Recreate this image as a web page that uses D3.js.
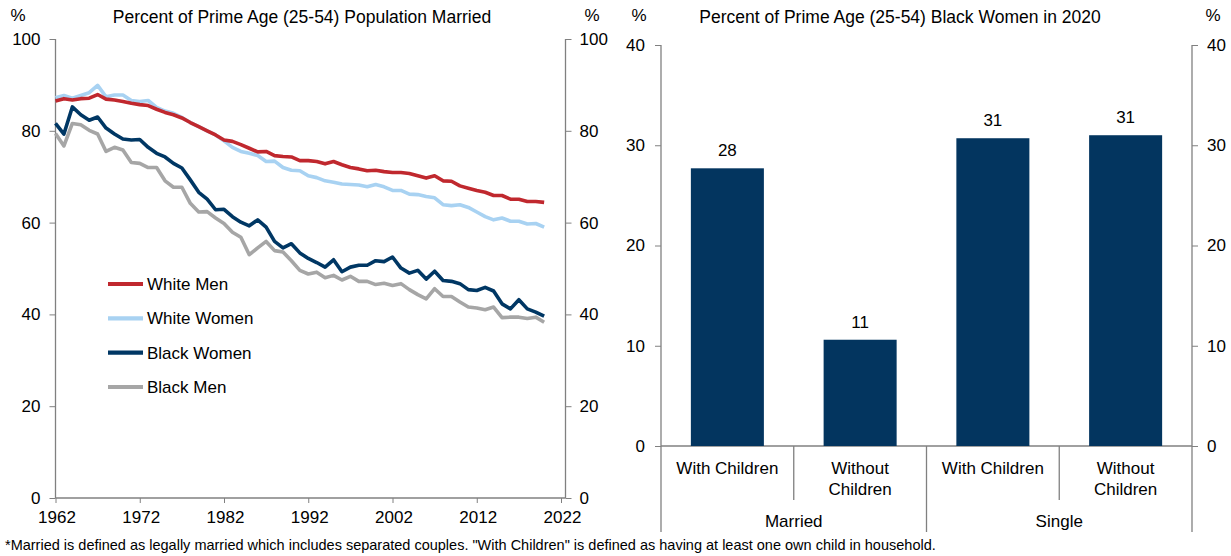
<!DOCTYPE html>
<html>
<head>
<meta charset="utf-8">
<script src="https://cdn.jsdelivr.net/npm/d3@7"></script>
<style>
  html, body { margin: 0; padding: 0; background: #fff; }
  svg text { font-family: "Liberation Sans", Arial, sans-serif; fill: #000; }
</style>
</head>
<body>
<svg id="chart" width="1231" height="556"></svg>
<script>
// ---------- DATA ----------
const years = d3.range(1962, 2021);
const whiteMen = [
  86.5,87.0,86.7,87.0,87.1,87.9,86.9,86.7,86.4,86.0,
  85.7,85.5,84.7,84.0,83.5,82.8,81.8,80.9,80.0,79.1,
  78.0,77.7,77.0,76.2,75.4,75.5,74.6,74.4,74.3,73.5,
  73.5,73.3,72.8,73.3,72.6,72.0,71.7,71.3,71.4,71.1,
  70.9,70.9,70.7,70.2,69.7,70.2,69.1,69.0,68.0,67.5,
  67.0,66.6,65.9,65.9,65.1,65.1,64.6,64.6,64.4];
const whiteWomen = [
  87.2,87.7,87.1,87.7,88.3,89.9,87.4,87.8,87.8,86.6,
  86.4,86.6,85.1,84.3,83.8,82.9,81.8,80.9,80.0,79.1,
  77.8,76.4,75.5,75.1,74.6,73.3,73.4,72.0,71.4,71.3,
  70.2,69.8,69.1,68.8,68.4,68.3,68.2,67.8,68.3,67.8,
  67.0,67.0,66.2,66.1,65.7,65.4,63.9,63.7,63.9,63.3,
  62.3,61.3,60.6,61.0,60.3,60.3,59.7,59.8,59.0];
const blackWomen = [
  81.6,79.3,85.2,83.5,82.3,83.0,80.6,79.3,78.2,78.0,
  78.1,76.4,75.1,74.3,72.9,71.9,69.3,66.6,65.1,62.8,
  62.9,61.3,60.1,59.3,60.6,59.0,55.9,54.5,55.4,53.4,
  52.2,51.3,50.3,51.9,49.3,50.3,50.7,50.7,51.7,51.5,
  52.5,50.1,49.0,49.6,47.7,49.4,47.4,47.2,46.7,45.4,
  45.2,45.9,45.1,42.3,41.2,43.2,41.2,40.5,39.6];
const blackMen = [
  79.4,76.7,81.6,81.3,80.1,79.3,75.5,76.4,75.8,73.1,
  72.9,72.0,72.0,69.1,67.7,67.7,64.2,62.3,62.4,61.0,
  59.8,57.9,56.8,53.0,54.5,55.9,53.9,53.6,51.7,49.6,
  48.8,49.2,48.0,48.5,47.5,48.3,47.2,47.2,46.5,46.8,
  46.3,46.7,45.4,44.3,43.4,45.6,43.9,43.9,42.7,41.6,
  41.4,41.0,41.6,39.3,39.4,39.4,39.1,39.4,38.3];
const seriesNames = ["White Men", "White Women", "Black Women", "Black Men"];
const seriesColors = ["#C0282E", "#A8D2F2", "#003764", "#A6A6A6"];
const lineTicks = [0, 20, 40, 60, 80, 100];
const yearTicks = [1962, 1972, 1982, 1992, 2002, 2012, 2022];

const barCategories = ["With Children", "Without Children", "With Children", "Without Children"];
const barGroups = ["Married", "Single"];
const barValues = [27.7, 10.6, 30.7, 31.0];
const barLabels = ["28", "11", "31", "31"];
const barTicks = [0, 10, 20, 30, 40];
const footnote = '*Married is defined as legally married which includes separated couples. "With Children" is defined as having at least one own child in household.';

// ---------- SETUP ----------
const svg = d3.select("#chart");
svg.append("rect").attr("width", 1231).attr("height", 556).attr("fill", "#fff");
const axisColor = "#808080";
const tickFont = "17px";
const titleFont = "17.5px";

function styleAxis(g) {
  g.selectAll("path.domain").remove();
  g.selectAll(".tick line").attr("stroke", axisColor);
  g.selectAll(".tick text").style("font-size", tickFont).attr("fill", "#000");
}

// ---------- LEFT CHART ----------
const L = { left: 55.5, right: 565.5, top: 39, bottom: 498 };
const xL = d3.scaleLinear().domain([1962, 2022]).range([L.left, 561]);
const yL = d3.scaleLinear().domain([0, 100]).range([L.bottom, L.top]);

svg.append("text").attr("x", 302).attr("y", 23).attr("text-anchor", "middle")
  .style("font-size", titleFont).text("Percent of Prime Age (25-54) Population Married");
svg.append("text").attr("x", 18).attr("y", 21).attr("text-anchor", "middle")
  .style("font-size", tickFont).text("%");
svg.append("text").attr("x", 592).attr("y", 21).attr("text-anchor", "middle")
  .style("font-size", tickFont).text("%");

const gLy = svg.append("g").attr("transform", `translate(${L.left},0)`)
  .call(d3.axisLeft(yL).tickValues(lineTicks).tickSize(6).tickPadding(9));
styleAxis(gLy);
const gRy = svg.append("g").attr("transform", `translate(${L.right},0)`)
  .call(d3.axisRight(yL).tickValues(lineTicks).tickSize(6).tickPadding(8));
styleAxis(gRy);
const gX = svg.append("g").attr("transform", `translate(0,${L.bottom})`)
  .call(d3.axisBottom(xL).tickValues(yearTicks).tickFormat(d3.format("d")).tickSize(5).tickPadding(8));
styleAxis(gX);
gX.selectAll(".tick text").attr("dx", 1);

svg.append("line").attr("x1", L.left).attr("x2", L.left).attr("y1", L.top).attr("y2", L.bottom)
  .attr("stroke", axisColor).attr("stroke-width", 1.3);
svg.append("line").attr("x1", L.right).attr("x2", L.right).attr("y1", L.top).attr("y2", L.bottom)
  .attr("stroke", axisColor).attr("stroke-width", 1.3);
svg.append("line").attr("x1", L.left).attr("x2", L.right).attr("y1", L.bottom).attr("y2", L.bottom)
  .attr("stroke", axisColor).attr("stroke-width", 1.3);

const allSeries = [whiteMen, whiteWomen, blackWomen, blackMen];
const line = d3.line().x((d, i) => xL(years[i])).y(d => yL(d));
// draw order: black men, black women, white women, white men (on top)
[3, 2, 1, 0].forEach(k => {
  svg.append("path").datum(allSeries[k])
    .attr("d", line).attr("fill", "none")
    .attr("stroke", seriesColors[k]).attr("stroke-width", 3.6)
    .attr("stroke-linejoin", "round");
});

// legend
const legY = d3.scalePoint().domain(seriesNames).range([284, 387]);
seriesNames.forEach((n, k) => {
  const y = legY(n);
  svg.append("line").attr("x1", 108).attr("x2", 143).attr("y1", y).attr("y2", y)
    .attr("stroke", seriesColors[k]).attr("stroke-width", 4.2);
  svg.append("text").attr("x", 147).attr("y", y).attr("dy", "0.35em")
    .style("font-size", tickFont).text(n);
});

// ---------- RIGHT CHART ----------
const R = { left: 661, right: 1192, top: 45, bottom: 446 };
const xB = d3.scaleBand().domain(d3.range(barValues.length)).range([R.left, R.right])
  .paddingInner(0.45).paddingOuter(0.225);
const yB = d3.scaleLinear().domain([0, 40]).range([R.bottom, R.top]);
const step = xB.step();

svg.append("text").attr("x", 900).attr("y", 23).attr("text-anchor", "middle")
  .style("font-size", titleFont).text("Percent of Prime Age (25-54) Black Women in 2020");
svg.append("text").attr("x", 639).attr("y", 21).attr("text-anchor", "middle")
  .style("font-size", tickFont).text("%");
svg.append("text").attr("x", 1213).attr("y", 21).attr("text-anchor", "middle")
  .style("font-size", tickFont).text("%");

const gBl = svg.append("g").attr("transform", `translate(${R.left},0)`)
  .call(d3.axisLeft(yB).tickValues(barTicks).tickSize(6).tickPadding(10));
styleAxis(gBl);
const gBr = svg.append("g").attr("transform", `translate(${R.right},0)`)
  .call(d3.axisRight(yB).tickValues(barTicks).tickSize(6).tickPadding(9));
styleAxis(gBr);

svg.append("line").attr("x1", R.left).attr("x2", R.left).attr("y1", R.top).attr("y2", 532)
  .attr("stroke", axisColor).attr("stroke-width", 1.3);
svg.append("line").attr("x1", R.right).attr("x2", R.right).attr("y1", R.top).attr("y2", 532)
  .attr("stroke", axisColor).attr("stroke-width", 1.3);
svg.append("line").attr("x1", R.left).attr("x2", R.right).attr("y1", R.bottom).attr("y2", R.bottom)
  .attr("stroke", axisColor).attr("stroke-width", 1.3);

// category separators
[1, 2, 3].forEach(k => {
  const x = R.left + k * step;
  svg.append("line").attr("x1", x).attr("x2", x).attr("y1", R.bottom)
    .attr("y2", k === 2 ? 532 : 500).attr("stroke", axisColor).attr("stroke-width", 1.3);
});

// bars
svg.selectAll("rect.bar").data(barValues).enter().append("rect").attr("class", "bar")
  .attr("x", (d, i) => xB(i)).attr("width", xB.bandwidth())
  .attr("y", d => yB(d)).attr("height", d => yB(0) - yB(d))
  .attr("fill", "#03355F");
svg.selectAll("text.vlab").data(barValues).enter().append("text").attr("class", "vlab")
  .attr("x", (d, i) => xB(i) + xB.bandwidth() / 2).attr("y", d => yB(d) - 12)
  .attr("text-anchor", "middle").style("font-size", tickFont).text((d, i) => barLabels[i]);

// category labels
barCategories.forEach((c, i) => {
  const cx = xB(i) + xB.bandwidth() / 2;
  const parts = c === "Without Children" ? ["Without", "Children"] : [c];
  parts.forEach((p, j) => {
    svg.append("text").attr("x", cx).attr("y", 468 + j * 21).attr("dy", "0.35em")
      .attr("text-anchor", "middle").style("font-size", tickFont).text(p);
  });
});
barGroups.forEach((g, j) => {
  const cx = R.left + (2 * j + 1) * step;
  svg.append("text").attr("x", cx).attr("y", 521).attr("dy", "0.35em")
    .attr("text-anchor", "middle").style("font-size", tickFont).text(g);
});

// footnote
svg.append("text").attr("x", 5).attr("y", 550).style("font-size", "14.5px").text(footnote);
</script>
</body>
</html>
